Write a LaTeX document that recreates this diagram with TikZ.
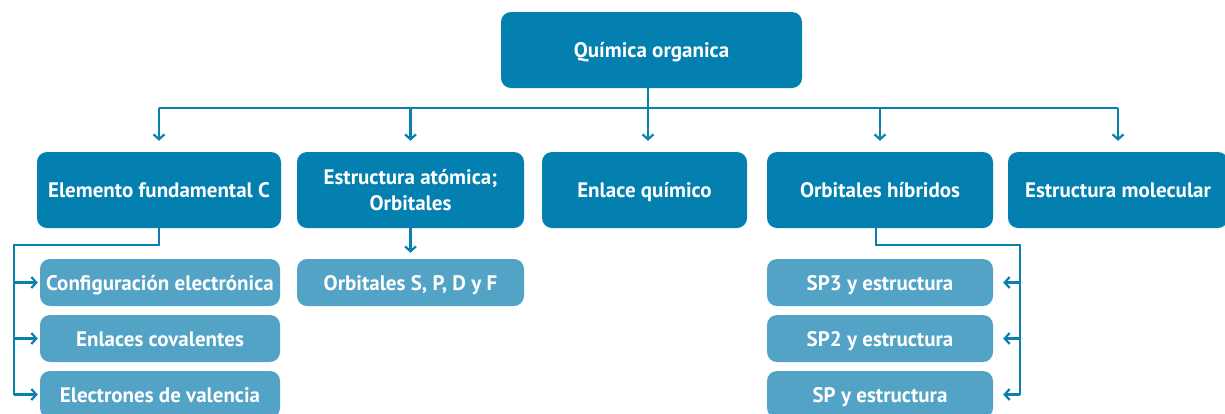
\documentclass[tikz,border=0pt]{standalone}
\usepackage{fontspec}
\setmainfont{PT Sans}
\usetikzlibrary{arrows.meta,calc}
\definecolor{dark}{HTML}{0380B0}
\definecolor{light}{HTML}{52A3C6}
\definecolor{ln}{HTML}{0A80AF}
\begin{document}
\begin{tikzpicture}[x=1pt,y=-1pt,
  base/.style={rectangle,rounded corners=10pt,text=white,font=\fontsize{21}{26}\selectfont\bfseries,align=center,inner sep=0pt,text height=15pt,text depth=0pt},
  dbox/.style={base,fill=dark,minimum height=76pt},
  lbox/.style={base,fill=light,minimum height=47pt},
  line/.style={draw=ln,line width=2.6pt},
  arr/.style={line,-{Straight Barb[length=5pt,width=11pt,line width=2.2pt]}}]
\useasboundingbox (0,0) rectangle (1225,413);
\clip (0,0) rectangle (1225,413);
\node[dbox,minimum width=301pt] (top) at (651.5,50) {Química organica};
\node[dbox,minimum width=244pt] (b1) at (159,190) {Elemento fundamental C};
\node[dbox,minimum width=227pt,text height=,text depth=] (b2) at (410.5,190) {Estructura atómica;\\Orbitales};
\node[dbox,minimum width=205pt] (b3) at (644.5,190) {Enlace químico};
\node[dbox,minimum width=226pt] (b4) at (880,190) {Orbitales híbridos};
\node[dbox,minimum width=220pt] (b5) at (1118,190) {Estructura molecular};
\node[lbox,minimum width=240pt] (c1) at (160,282.5) {Configuración electrónica};
\node[lbox,minimum width=240pt] (c2) at (160,338.5) {Enlaces covalentes};
\node[lbox,minimum width=240pt] (c3) at (160,394.5) {Electrones de valencia};
\node[lbox,minimum width=227pt] (s1) at (410.5,282.5) {Orbitales S, P, D y F};
\node[lbox,minimum width=226pt] (h1) at (880,282.5) {SP3 y estructura};
\node[lbox,minimum width=226pt] (h2) at (880,338.5) {SP2 y estructura};
\node[lbox,minimum width=226pt] (h3) at (880,394.5) {SP y estructura};
\coordinate (bus) at (648,108);
\coordinate (lb) at (14,245);
\coordinate (rb) at (1020,245);
% top bus
\draw[line] (top.south -| bus) -- (bus);
\draw[line] (b1.north |- bus) -- (b5.north |- bus);
\foreach \n in {b1,b2,b4,b5} \draw[arr,shorten >=11pt] (\n.north |- bus) -- (\n.north);
\draw[arr,shorten >=11pt] (bus) -- (bus |- b3.north);
% left bracket
\draw[line] (b1.south) |- (lb) -- (lb |- c3.west);
\foreach \n in {c1,c2,c3} \draw[arr,shorten >=2pt] (lb |- \n.west) -- (\n.west);
% middle
\draw[arr,shorten >=6pt] (b2.south) -- (s1.north);
% right bracket
\draw[line] ([xshift=-4pt]b4.south) |- (rb) -- (rb |- h3.east);
\foreach \n in {h1,h2,h3} \draw[arr,shorten >=10pt] (rb |- \n.east) -- (\n.east);
\end{tikzpicture}
\end{document}
